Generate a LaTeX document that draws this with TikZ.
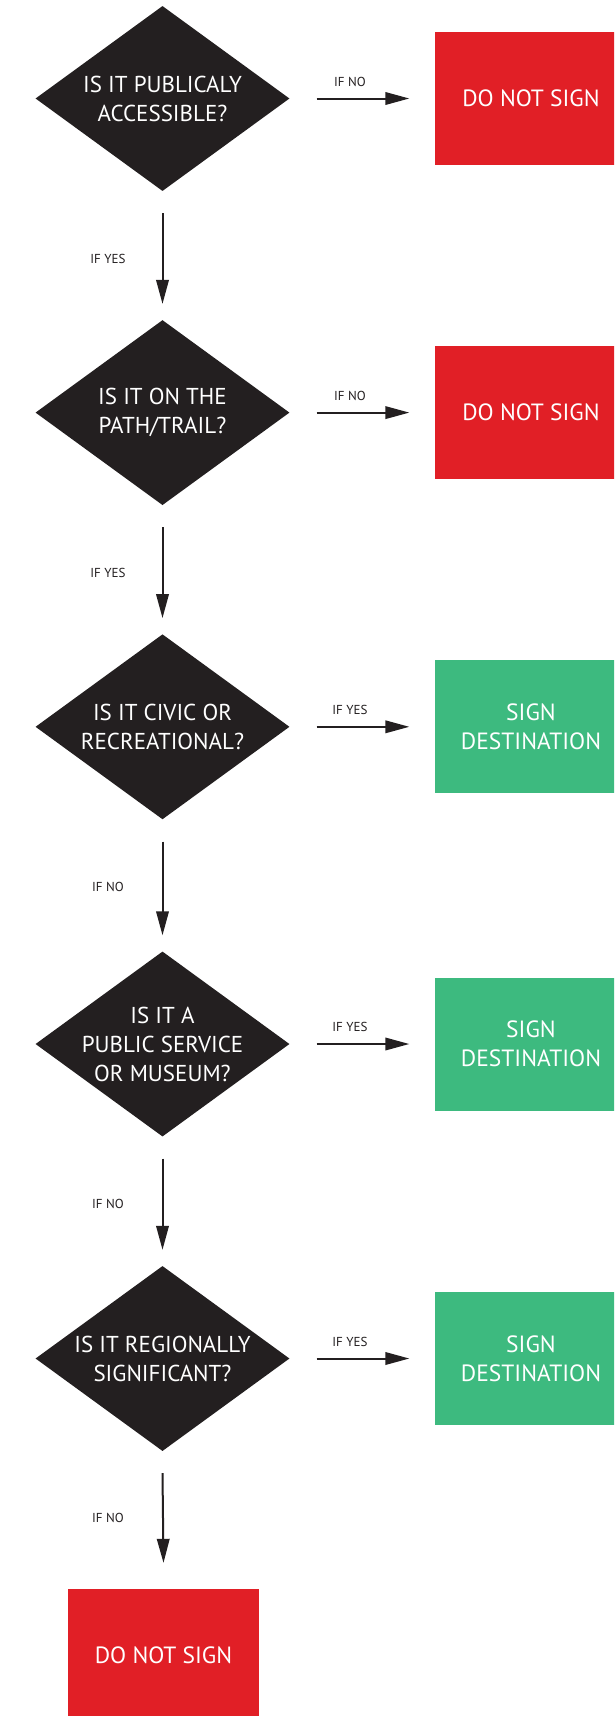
\documentclass[tikz,border=0pt]{standalone}
\usepackage{fontspec}
\setmainfont{PT Sans}
\usetikzlibrary{arrows.meta,shapes.geometric}
\definecolor{dred}{HTML}{E11F26}
\definecolor{dgreen}{HTML}{3DBA7F}
\definecolor{dblack}{HTML}{231F20}
\begin{document}
\begin{tikzpicture}[x=1pt,y=-1pt,
 dia/.style={diamond, fill=dblack, minimum width=254pt, minimum height=185pt, inner sep=0pt},
 dtext/.style={text=white, font=\fontsize{23}{29}\selectfont, align=center, inner sep=0pt},
 boxbase/.style={rectangle, minimum width=193pt, minimum height=133pt, inner sep=0pt, text=white, font=\fontsize{23.5}{29}\selectfont, align=center},
 nobox/.style={boxbase, fill=dred},
 yesbox/.style={boxbase, fill=dgreen},
 lab/.style={font=\fontsize{13}{15}\selectfont, text=dblack, inner sep=0pt},
 arr/.style={draw=dblack, line width=2pt, -{Triangle[length=24pt,width=12.5pt]}}
]
\clip (0,0) rectangle (614,1716);
\fill[white] (0,0) rectangle (614,1716);

% diamonds
\node[dia] (d1) at (162.5,98.5) {};
\node[dia] (d2) at (162.5,412.6) {};
\node[dia] (d3) at (162.5,726.8) {};
\node[dia] (d4) at (162.5,1044) {};
\node[dia] (d5) at (162.5,1358.5) {};
\node[dtext] (t1) at (d1) {IS IT PUBLICALY\\ACCESSIBLE?};
\node[dtext] (t2) at (d2) {IS IT ON THE\\PATH/TRAIL?};
\node[dtext] (t3) at (d3) {IS IT CIVIC OR\\RECREATIONAL?};
\node[dtext] (t4) at (d4) {IS IT A\\PUBLIC SERVICE\\OR MUSEUM?};
\node[dtext] (t5) at (d5) {IS IT REGIONALLY\\SIGNIFICANT?};

% result boxes
\node[nobox] (b1) at (531,98.5) {DO NOT SIGN};
\node[nobox] (b2) at (531,412.6) {DO NOT SIGN};
\node[yesbox] (b3) at (531,726.8) {SIGN\\DESTINATION};
\node[yesbox] (b4) at (531,1044) {SIGN\\DESTINATION};
\node[yesbox] (b5) at (531,1358.5) {SIGN\\DESTINATION};
\node[nobox, minimum width=191pt] (b6) at (163.5,1655.5) {DO NOT SIGN};

% horizontal arrows
\draw[arr] ([xshift=27pt]d1.east) -- ([xshift=-25pt]b1.west);
\draw[arr] ([xshift=27pt]d2.east) -- ([xshift=-25pt]b2.west);
\draw[arr] ([xshift=27pt]d3.east) -- ([xshift=-25pt]b3.west);
\draw[arr] ([xshift=27pt]d4.east) -- ([xshift=-25pt]b4.west);
\draw[arr] ([xshift=27pt]d5.east) -- ([xshift=-25pt]b5.west);

% vertical arrows
\draw[arr] ([yshift=-22pt]d1.south) -- ([yshift=16pt]d2.north);
\draw[arr] ([yshift=-22pt]d2.south) -- ([yshift=16pt]d3.north);
\draw[arr] ([yshift=-22pt]d3.south) -- ([yshift=16pt]d4.north);
\draw[arr] ([yshift=-22pt]d4.south) -- ([yshift=16pt]d5.north);
\draw[arr] ([yshift=-22pt]d5.south) -- ([yshift=26pt]b6.north);

% labels on horizontal arrows
\node[lab] (h1) at (350,81.5) {IF NO};
\node[lab] (h2) at (350,395.6) {IF NO};
\node[lab] (h3) at (350,709.8) {IF YES};
\node[lab] (h4) at (350,1027) {IF YES};
\node[lab] (h5) at (350,1341.5) {IF YES};

% labels on vertical arrows
\node[lab] (v1) at (108,259) {IF YES};
\node[lab] (v2) at (108,572.5) {IF YES};
\node[lab] (v3) at (108,886.5) {IF NO};
\node[lab] (v4) at (108,1204) {IF NO};
\node[lab] (v5) at (108,1518) {IF NO};
\end{tikzpicture}
\end{document}
